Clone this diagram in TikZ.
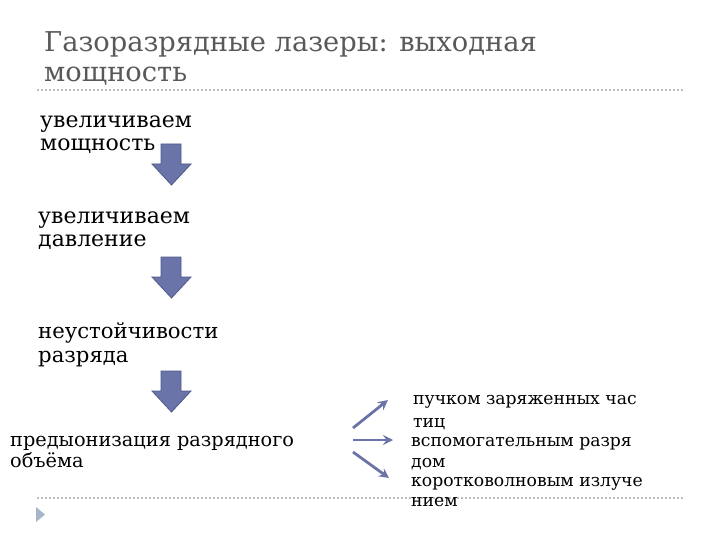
\documentclass[tikz,border=0pt]{standalone}
\usepackage{fontspec}
\setmainfont{DejaVu Serif}
\usetikzlibrary{arrows.meta}
\definecolor{titlegray}{RGB}{89,89,89}
\definecolor{arrowfill}{RGB}{107,116,168}
\definecolor{arrowdraw}{RGB}{78,88,138}
\definecolor{dotgray}{RGB}{190,190,190}
\definecolor{bulletblue}{RGB}{166,182,202}
\tikzset{
  txt/.style={anchor=base west, inner sep=0pt, align=left},
  blockarrow/.style={fill=arrowfill, draw=arrowdraw, line width=0.8pt, line join=miter},
  thinarrow/.style={draw=arrowfill, line width=2.8pt, -{Stealth[length=10pt,width=10pt,inset=3.5pt]}},
  sep/.style={draw=dotgray, line width=1.3pt, dash pattern=on 2pt off 2pt}
}
\begin{document}
\begin{tikzpicture}[x=1pt,y=-1pt]
\useasboundingbox (0,0) rectangle (720,540);
% title (base anchor = last line baseline)
\node[txt, text=titlegray, font=\fontsize{27.3}{30}\selectfont] (title) at (44,82)
  {Газоразрядные лазеры: выходная\\мощность};
\draw[sep] (37,90) -- (685,90);
\draw[sep] (37,498) -- (685,498);
\fill[bulletblue] (36,507) -- (45,514.5) -- (36,522) -- cycle;
% flow texts
\node[txt, font=\fontsize{22}{23}\selectfont] (t1) at (40,151) {увеличиваем\\мощность};
\node[txt, font=\fontsize{22}{23}\selectfont] (t2) at (38,246) {увеличиваем\\давление};
\node[txt, font=\fontsize{21.2}{24}\selectfont] (t3) at (38,362) {неустойчивости\\разряда};
\node[txt, font=\fontsize{19.3}{21}\selectfont] (t4) at (10,467) {предыонизация разрядного\\объёма};
% block arrows
\foreach \y/\n in {144/a1,257/a2,371/a3}{
  \draw[blockarrow] (161,\y) -- (181,\y) -- (181,\y+20) -- (191,\y+20) -- (171.5,\y+41)
     -- (152,\y+20) -- (161,\y+20) -- cycle;
}
% right labels
\node[txt, font=\fontsize{17.2}{23}\selectfont] (r1) at (413,427) {пучком заряженных час\\тиц};
\node[txt, font=\fontsize{17.2}{21}\selectfont] (r2) at (411,467) {вспомогательным разря\\дом};
\node[txt, font=\fontsize{17.2}{20}\selectfont] (r3) at (411,506) {коротковолновым излуче\\нием};
\coordinate (s1) at (353,428);
\coordinate (s2) at (353,440);
\coordinate (s3) at (353,452);
\coordinate (e1) at (388,400);
\coordinate (e2) at (393,440);
\coordinate (e3) at (389,478);
\draw[thinarrow] (s1) -- (e1);
\draw[thinarrow] (s2) -- (e2);
\draw[thinarrow] (s3) -- (e3);
\end{tikzpicture}
\end{document}
